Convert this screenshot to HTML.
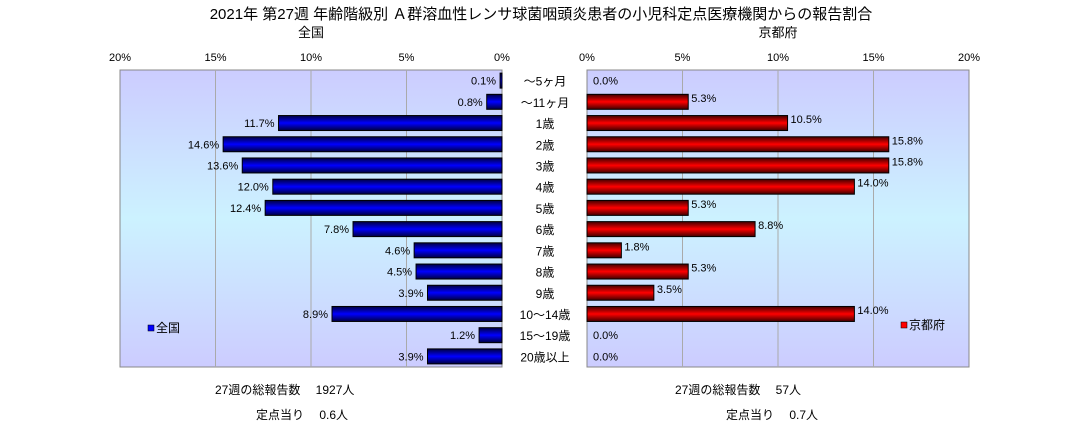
<!DOCTYPE html>
<html><head><meta charset="utf-8"><style>
body{margin:0;background:#fff;width:1083px;height:429px;overflow:hidden;font-family:"Liberation Sans","Noto Sans CJK JP",sans-serif;}
svg text{font-family:"Liberation Sans","Noto Sans CJK JP",sans-serif;}
</style></head><body>
<svg width="1083" height="429" xmlns="http://www.w3.org/2000/svg">
<defs>
<linearGradient id="bg" x1="0" y1="0" x2="0" y2="1">
<stop offset="0" stop-color="#ccccff"/><stop offset="0.5" stop-color="#ccf2ff"/><stop offset="1" stop-color="#ccccff"/></linearGradient>
<linearGradient id="gb" x1="0" y1="0" x2="0" y2="1">
<stop offset="0" stop-color="#000040"/><stop offset="0.5" stop-color="#0000ff"/><stop offset="1" stop-color="#000040"/></linearGradient>
<linearGradient id="gr" x1="0" y1="0" x2="0" y2="1">
<stop offset="0" stop-color="#400000"/><stop offset="0.5" stop-color="#ff0000"/><stop offset="1" stop-color="#400000"/></linearGradient>
</defs>
<text x="541" y="19" font-size="15" text-anchor="middle">2021年 第27週 年齢階級別 Ａ群溶血性レンサ球菌咽頭炎患者の小児科定点医療機関からの報告割合</text>
<text x="311" y="37" font-size="13" text-anchor="middle">全国</text>
<text x="778" y="37" font-size="13" text-anchor="middle">京都府</text>
<g id="L"></g><g id="R"></g><g id="C"></g>
<rect x="148" y="325" width="6" height="6" fill="#0000ff" stroke="#000" stroke-width="0.5"/>
<text x="156" y="332" font-size="12">全国</text>
<rect x="901" y="322" width="6" height="6" fill="#ff0000" stroke="#000" stroke-width="0.5"/>
<text x="909" y="329" font-size="12">京都府</text>
<text x="215" y="394" font-size="12">27週の総報告数　 1927人</text>
<text x="256" y="419" font-size="12">定点当り　 0.6人</text>
<text x="675" y="394" font-size="12">27週の総報告数　 57人</text>
<text x="726" y="419" font-size="12">定点当り　 0.7人</text>
</svg>
<script>
const categories=["～5ヶ月","～11ヶ月","1歳","2歳","3歳","4歳","5歳","6歳","7歳","8歳","9歳","10～14歳","15～19歳","20歳以上"];
const nationalValues=[0.1,0.8,11.7,14.6,13.6,12.0,12.4,7.8,4.6,4.5,3.9,8.9,1.2,3.9];
const kyotoValues=[0.0,5.3,10.5,15.8,15.8,14.0,5.3,8.8,1.8,5.3,3.5,14.0,0.0,0.0];
const tickValues=[0,5,10,15,20];
const NS="http://www.w3.org/2000/svg";
const top0=70,bot0=367,n=categories.length,rowH=(bot0-top0)/n,barH=15;
const lx0=502,lx20=120,rx0=587,rx20=969;
function xL(v){return lx0+(lx20-lx0)*v/20;}
function xR(v){return rx0+(rx20-rx0)*v/20;}
function yRow(i){return top0+rowH*i+rowH/2;}
function mk(tag,attrs,parent,text){const e=document.createElementNS(NS,tag);for(const k in attrs)e.setAttribute(k,attrs[k]);if(text!==undefined)e.textContent=text;parent.appendChild(e);return e;}
function panel(g,xf,vals,grad,side){
  const x1=Math.min(xf(0),xf(20)),x2=Math.max(xf(0),xf(20));
  const bgr=mk('rect',{x:x1,y:top0,width:x2-x1,height:bot0-top0,fill:'url(#bg)',stroke:'#888','stroke-width':1},g);
  
  
  tickValues.forEach(t=>{
    const x=xf(t);
    if(t>0&&t<20){const l=mk('line',{x1:x,x2:x,y1:top0,y2:bot0,stroke:'#aaa','stroke-width':1},g);
      
      }
    const tx=mk('text',{x:x,y:61,'font-size':11,'text-anchor':'middle'},g,t+'%');
    
    
  });
  vals.forEach((v,i)=>{
    const a=xf(0),b=xf(v),y=yRow(i)-barH/2;
    if(v>0){const r=mk('rect',{x:Math.min(a,b),y:y,width:Math.abs(b-a),height:barH,fill:grad,stroke:'#000','stroke-width':1},g);
      
      }
    const lbl=v.toFixed(1)+'%';
    let t;
    if(side==='national') t=mk('text',{x:b-4,y:yRow(i)+4,'font-size':11,'text-anchor':'end'},g,lbl);
    else t=mk('text',{x:b+(v>0?3:6),y:yRow(i)+(v>0?0:4),'font-size':11},g,lbl);
    
    
  });
}
panel(document.getElementById('L'),xL,nationalValues,'url(#gb)','national');
panel(document.getElementById('R'),xR,kyotoValues,'url(#gr)','kyoto');
const C=document.getElementById('C');
categories.forEach((c,i)=>{
  const t=mk('text',{x:545,y:yRow(i)+5,'font-size':12,'text-anchor':'middle'},C,c);
  
  
});
</script>
</body></html>
